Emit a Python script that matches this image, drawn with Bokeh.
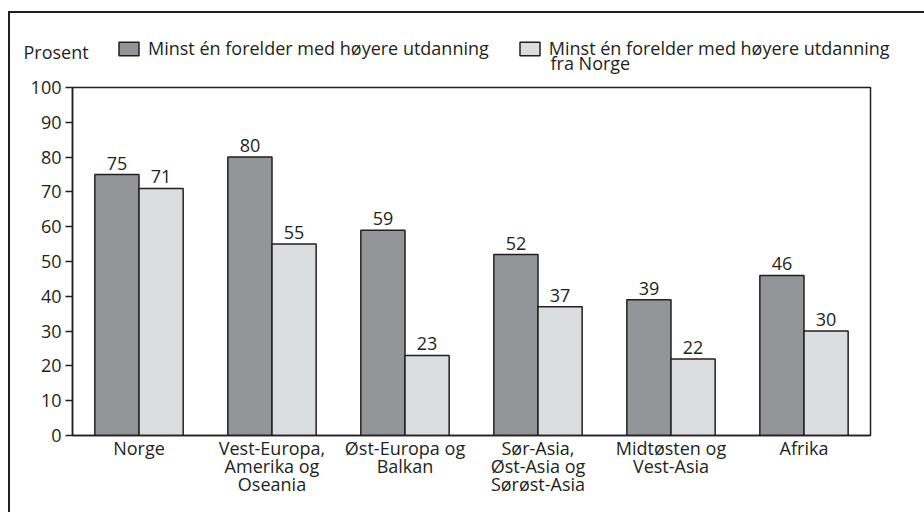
from bokeh.plotting import figure
from bokeh.layouts import column, row
from bokeh.models import (ColumnDataSource, Range1d, FactorRange, LabelSet, Legend,
                          LegendItem, Label, SingleIntervalTicker, Spacer)
from bokeh.core.properties import value
from bokeh.transform import dodge
from bokeh.embed import file_html
from bokeh.resources import INLINE

regions = ["Norge", "Vest-Europa,\nAmerika og\nOseania", "Øst-Europa og\nBalkan",
           "Sør-Asia,\nØst-Asia og\nSørøst-Asia", "Midtøsten og\nVest-Asia", "Afrika"]
minst_en = [75, 80, 59, 52, 39, 46]
fra_norge = [71, 55, 23, 37, 22, 30]
series_labels = ["Minst én forelder med høyere utdanning",
                 "Minst én forelder med høyere utdanning\nfra Norge"]
y_title = "Prosent"

FONT = "Open Sans"
FS = "18px"
DARK = "#949598"
LIGHT = "#dcdddf"
INK = "#231f20"
BW = 0.332

src = ColumnDataSource(dict(region=regions, a=minst_en, b=fra_norge,
                            a_txt=[str(v) for v in minst_en],
                            b_txt=[str(v) for v in fra_norge]))


def add_bars(fig):
    ra = fig.vbar(x=dodge("region", -BW / 2, range=fig.x_range), top="a", width=BW,
                  source=src, fill_color=DARK, line_color=INK, line_width=1.5)
    rb = fig.vbar(x=dodge("region", BW / 2, range=fig.x_range), top="b", width=BW,
                  source=src, fill_color=LIGHT, line_color=INK, line_width=1.5)
    return ra, rb


# ---------------- header strip: "Prosent" + legend ----------------
HW, HH = 914, 62
hdr = figure(width=HW, height=HH, x_range=FactorRange(*regions), y_range=Range1d(0, 100),
             output_backend="svg", toolbar_location=None, min_border=0)
hdr.axis.visible = False
hdr.grid.visible = False
hdr.outline_line_color = None
h1, h2 = add_bars(hdr)          # same series, hidden here: they only feed the legend swatches
h1.visible = False
h2.visible = False
lab2_first, lab2_rest = series_labels[1].split("\n", 1)
legend = Legend(items=[LegendItem(label=series_labels[0], renderers=[h1]),
                       LegendItem(label=lab2_first, renderers=[h2])],
                orientation="horizontal", location=(106, 15),
                glyph_width=25, glyph_height=17, label_standoff=7, spacing=28,
                padding=0, margin=0, border_line_color=None, background_fill_alpha=0,
                inactive_fill_alpha=0,
                label_text_font=FONT, label_text_font_size=FS, label_text_color=INK)
hdr.add_layout(legend)
hdr.add_layout(Label(x=540, y=13, x_units="screen", y_units="screen", text=lab2_rest,
                     text_font=FONT, text_font_size=FS, text_color=INK,
                     text_baseline="alphabetic"))
hdr.add_layout(Label(x=13, y=24, x_units="screen", y_units="screen", text=y_title,
                     text_font=FONT, text_font_size=FS, text_color=INK,
                     text_baseline="alphabetic"))

# ---------------- main chart ----------------
p = figure(x_range=FactorRange(*regions), y_range=Range1d(0, 100),
           width=914, height=437, output_backend="svg", toolbar_location=None,
           min_border_left=62, min_border_top=12, min_border_right=54, min_border_bottom=77)
add_bars(p)

for col, off in (("a", -BW / 2), ("b", BW / 2)):
    p.add_layout(LabelSet(x=dodge("region", off, range=p.x_range), y=col, text=col + "_txt",
                          source=src, text_align="center", text_baseline="alphabetic",
                          y_offset=5, text_font=value(FONT), text_font_size=FS,
                          text_color=INK))

p.grid.visible = False
p.outline_line_color = INK
p.outline_line_width = 1.5

p.yaxis.ticker = SingleIntervalTicker(interval=10)
for ax in (p.xaxis, p.yaxis):
    ax.axis_line_color = INK
    ax.axis_line_width = 1.5
    ax.major_label_text_font = FONT
    ax.major_label_text_font_size = FS
    ax.major_label_text_color = INK
    ax.minor_tick_line_color = None
p.yaxis.major_tick_in = 0
p.yaxis.major_tick_out = 7
p.yaxis.major_tick_line_color = INK
p.yaxis.major_tick_line_width = 1.5
p.yaxis.major_label_standoff = 4
p.xaxis.major_tick_line_color = None
p.xaxis.major_label_standoff = -6
p.xaxis.major_label_text_line_height = 0.76

border_top = Spacer(width=916, height=2, margin=(11, 0, 0, 8),
                    styles={"background-color": INK})
border_left_a = Spacer(width=2, height=HH, margin=(0, 0, 0, 8),
                       styles={"background-color": INK})
border_left_b = Spacer(width=2, height=437, margin=(0, 0, 0, 8),
                       styles={"background-color": INK})
top_part = column(border_top, row(border_left_a, hdr, spacing=0), spacing=0)
bottom_part = column(row(border_left_b, p, spacing=0), spacing=0)

open("out.html", "w").write(file_html([top_part, bottom_part], INLINE))
